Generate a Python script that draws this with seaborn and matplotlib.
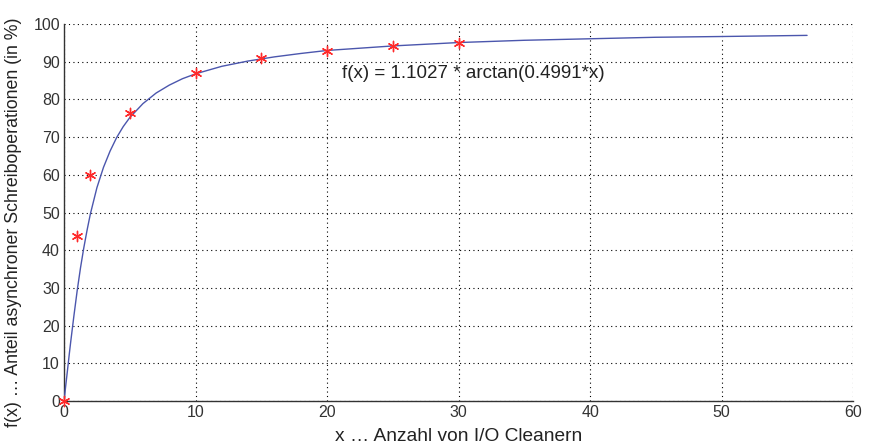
import matplotlib
matplotlib.use("Agg")
import seaborn as sns
import pandas as pd
from matplotlib import pyplot as plt

# measured points (red stars)
mess_x = [0, 1, 2, 5, 10, 15, 20, 25, 30]
mess_y = [0, 43.8, 59.9, 76.4, 87.0, 90.9, 92.9, 94.2, 95.0]

# fitted curve
kurve_x = [0, 0.1, 0.25, 0.4, 0.5, 0.75, 1, 1.25, 1.5, 1.75, 2, 2.5, 3, 3.5, 4, 4.5, 5, 6, 7, 8, 9,
           10, 12, 14, 16, 18, 20, 25, 30, 35, 40, 45, 50, 56.5]
kurve_y = [0, 3.2, 7.8, 12.5, 15.5, 22.6, 29.3, 35.3, 40.6, 45.3, 49.6, 56.6, 62.0, 66.3, 69.9, 72.8,
           75.2, 78.9, 81.7, 83.8, 85.5, 86.8, 88.8, 90.2, 91.3, 92.2, 93.0, 94.2, 95.1, 95.7, 96.1,
           96.5, 96.7, 97.0]

x_ticks = list(range(0, 61, 10))
y_ticks = list(range(0, 101, 10))

sns.set_style("white")
plt.rcParams['font.family'] = ['Liberation Sans', 'DejaVu Sans']

fig = plt.figure(figsize=(8.69, 4.45), dpi=100)
ax = fig.add_axes([0.0737, 0.0989, 0.908, 0.847])

kurve = pd.DataFrame(dict(x=kurve_x, y=kurve_y))
mess = pd.DataFrame(dict(x=mess_x, y=mess_y))

sns.lineplot(data=kurve, x='x', y='y', ax=ax, color='#4b56ad', lw=1.0, zorder=3)
sns.scatterplot(data=mess, x='x', y='y', ax=ax, marker=(6, 2, 0), color='#ff2a2a',
                s=55, linewidth=1.0, edgecolor='#ff2a2a', zorder=4, clip_on=False)

ax.text(21.1, 87.0, 'f(x) = 1.1027 * arctan(0.4991*x)', fontsize=13.5, va='center', ha='left',
        color='#222222')

ax.set_xlim(0, 60)
ax.set_ylim(0, 100)
ax.set_xticks(x_ticks)
ax.set_yticks(y_ticks)
ax.grid(True, color='black', linestyle=(0, (1, 3)), lw=0.8)
ax.set_axisbelow(True)
ax.tick_params(direction='in', length=4, labelsize=11.5, colors='#333333', pad=3)
for s in ['top', 'right']:
    ax.spines[s].set_visible(False)
for s in ['left', 'bottom']:
    ax.spines[s].set_color('#333333')
    ax.spines[s].set_linewidth(1.0)

ax.set_xlabel('x … Anzahl von I/O Cleanern', fontsize=13.8, color='#222222')
ax.xaxis.set_label_coords(0.5, -0.072)
ax.set_ylabel('f(x) … Anteil asynchroner Schreiboperationen (in %)', fontsize=12.8,
              color='#222222')
ax.yaxis.set_label_coords(-0.053, 0.475)

fig.savefig('out.png', dpi=100)
